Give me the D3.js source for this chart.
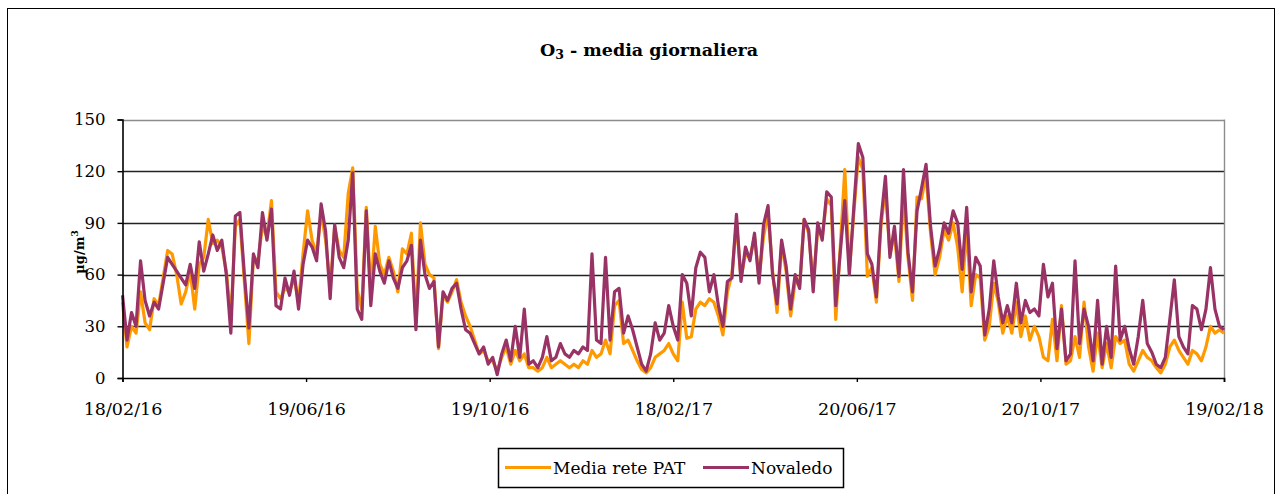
<!DOCTYPE html>
<html lang="it">
<head>
<meta charset="UTF-8">
<title>O3 - media giornaliera</title>
<script src="https://cdn.jsdelivr.net/npm/d3@7/dist/d3.min.js"></script>
<style>
  * { margin: 0; padding: 0; }
  body { background: #fff; width: 1282px; height: 494px; overflow: hidden; }
  svg { display: block; }
  svg text { font-family: 'DejaVu Serif', serif !important; }
</style>
</head>
<body>
<svg id="chart" width="1282" height="494"></svg>
<script>
// valori (campioni ogni 3 giorni a partire dal 18/02/16)
const firstDay = '18/02/16';
const stepDays = 3;
const xTickLabels = ['18/02/16', '19/06/16', '19/10/16', '18/02/17', '20/06/17', '20/10/17', '19/02/18'];
const yTicks = [0, 30, 60, 90, 120, 150];
const seriesNames = ['Media rete PAT', 'Novaledo'];
const seriesColors = ['#ff9900', '#993366'];

const mediaPat = [
  44,18,30,26,50,32,28,46,42,58,74,72,60,43,50,62,40,66,70,92,78,80,76,62,34,88,92,56,20,70,68,
  88,82,103,50,46,52,50,58,44,72,97,80,72,96,80,52,88,74,70,107,122,51,40,99,50,88,66,60,70,62,50,
  75,72,84,32,90,66,60,58,17,48,44,50,57,44,36,30,22,14,16,10,10,4,12,18,8,16,10,14,6,6,
  4,6,12,6,8,10,8,6,8,6,10,8,16,12,14,22,14,42,45,20,22,16,10,5,3,6,12,14,16,20,
  14,10,44,23,24,40,44,42,46,44,36,25,50,60,90,58,72,70,82,58,82,96,62,38,78,62,36,56,54,92,84,
  55,86,82,104,100,34,76,121,62,96,128,121,59,64,44,88,110,72,84,56,106,70,45,105,104,118,84,60,70,86,80,
  90,76,50,88,42,60,58,22,30,55,44,26,36,26,44,24,36,22,30,24,12,10,34,10,42,8,10,24,12,44,18,
  4,26,6,20,6,24,20,22,8,4,10,16,12,10,6,3,8,18,22,16,12,8,16,14,10,18,30,26,28,26
];

const novaledo = [
  48,22,38,30,68,45,36,44,40,55,70,66,62,58,54,66,52,79,62,72,83,74,80,60,26,94,96,60,29,72,64,
  96,80,98,42,40,58,48,62,40,66,80,76,68,101,85,46,89,70,64,80,119,40,34,97,42,72,62,55,68,58,52,
  64,68,77,28,80,60,52,56,18,50,45,52,55,40,28,26,20,14,18,8,12,2,14,22,10,30,12,40,8,10,
  6,12,24,10,12,20,14,12,16,14,18,16,72,22,20,70,22,50,52,26,36,28,18,8,4,14,32,22,26,42,
  30,22,60,55,36,64,73,70,50,60,42,30,56,58,95,56,76,68,84,55,89,100,60,43,80,65,40,60,52,92,86,
  50,90,80,108,105,42,73,103,60,99,136,128,72,66,47,91,117,70,88,59,121,73,50,97,110,124,88,65,75,90,84,
  97,90,63,99,50,70,65,25,40,68,47,32,42,32,55,32,45,38,40,36,66,47,55,17,40,10,14,68,20,40,30,
  10,45,8,30,12,65,22,30,17,8,24,45,20,15,8,6,12,34,57,24,18,14,42,40,28,40,64,40,30,28
];

(function() {
  const parse = d3.timeParse('%d/%m/%y');
  const start = parse(firstDay);
  const tickDates = xTickLabels.map(parse);
  const svg = d3.select('#chart');

  const M = { left: 122.5, right: 1224, top: 119.5, bottom: 378 };
  const x = d3.scaleTime().domain([tickDates[0], tickDates[tickDates.length - 1]]).range([M.left, M.right]);
  const y = d3.scaleLinear().domain([0, 150]).range([M.bottom, M.top]);

  // cornice esterna
  svg.append('rect').attr('x', 7.5).attr('y', 8.5).attr('width', 1267).attr('height', 500)
    .attr('fill', '#fff').attr('stroke', '#000').attr('stroke-width', 1);

  // titolo
  const title = svg.append('text').attr('x', 649).attr('y', 56).attr('text-anchor', 'middle')
    .attr('font-size', 17.5).attr('font-weight', 'bold').attr('fill', '#000');
  title.append('tspan').text('O');
  title.append('tspan').attr('font-size', 12.5).attr('dy', 3).text('3');
  title.append('tspan').attr('dy', -3).text(' - media giornaliera');

  // griglia
  svg.append('g').selectAll('line').data(yTicks.filter(v => v > 0)).join('line')
    .attr('x1', M.left).attr('x2', M.right)
    .attr('y1', d => Math.round(y(d)) + 0.5).attr('y2', d => Math.round(y(d)) + 0.5)
    .attr('stroke', d => d === 150 ? '#8c8c8c' : '#222').attr('stroke-width', 1.4);
  svg.append('line').attr('x1', M.right + 0.5).attr('x2', M.right + 0.5).attr('y1', y(150)).attr('y2', y(0))
    .attr('stroke', '#8c8c8c').attr('stroke-width', 1.4);

  // serie
  const line = d3.line().x((d, i) => x(d3.timeDay.offset(start, i * stepDays))).y(d => y(d));
  [mediaPat, novaledo].forEach((vals, k) => {
    svg.append('path').datum(vals).attr('d', line)
      .attr('fill', 'none').attr('stroke', seriesColors[k]).attr('stroke-width', 3.2)
      .attr('stroke-linejoin', 'round');
  });

  // asse y
  const yAxis = svg.append('g').attr('transform', `translate(${M.left},0)`)
    .call(d3.axisLeft(y).tickValues(yTicks).tickSize(5).tickPadding(12));
  yAxis.attr('font-family', null);
  yAxis.select('.domain').attr('stroke', '#000').attr('stroke-width', 1.6);
  yAxis.selectAll('.tick line').attr('stroke', '#000').attr('stroke-width', 1.4);
  yAxis.selectAll('text').attr('font-size', 16.5).attr('fill', '#000');

  // asse x
  const xAxis = svg.append('g').attr('transform', `translate(0,${M.bottom})`)
    .call(d3.axisBottom(x).tickValues(tickDates).tickFormat((d, i) => xTickLabels[i]).tickSize(4).tickPadding(21));
  xAxis.attr('font-family', null);
  xAxis.select('.domain').attr('stroke', '#000').attr('stroke-width', 1.6);
  xAxis.selectAll('.tick line').attr('stroke', '#000').attr('stroke-width', 1.4);
  xAxis.selectAll('text').attr('font-size', 17.5).attr('fill', '#000');

  // etichetta asse y
  const yl = svg.append('text').attr('transform', 'translate(84,252) rotate(-90)').attr('text-anchor', 'middle')
    .attr('font-size', 13).attr('font-weight', 'bold').attr('fill', '#000');
  yl.append('tspan').text('µg/m');
  yl.append('tspan').attr('font-size', 9).attr('dy', -6).text('3');

  // legenda
  const lg = svg.append('g');
  lg.append('rect').attr('x', 498.5).attr('y', 448.5).attr('width', 345).attr('height', 39)
    .attr('fill', '#fff').attr('stroke', '#000').attr('stroke-width', 1.5);
  const items = [{ x: 505 }, { x: 703 }];
  seriesNames.forEach((name, k) => {
    lg.append('line').attr('x1', items[k].x).attr('x2', items[k].x + 46).attr('y1', 467.5).attr('y2', 467.5)
      .attr('stroke', seriesColors[k]).attr('stroke-width', 3.2);
    lg.append('text').attr('x', items[k].x + 48).attr('y', 474).attr('font-size', 17).attr('fill', '#000').text(name);
  });
})();
</script>
</body>
</html>
